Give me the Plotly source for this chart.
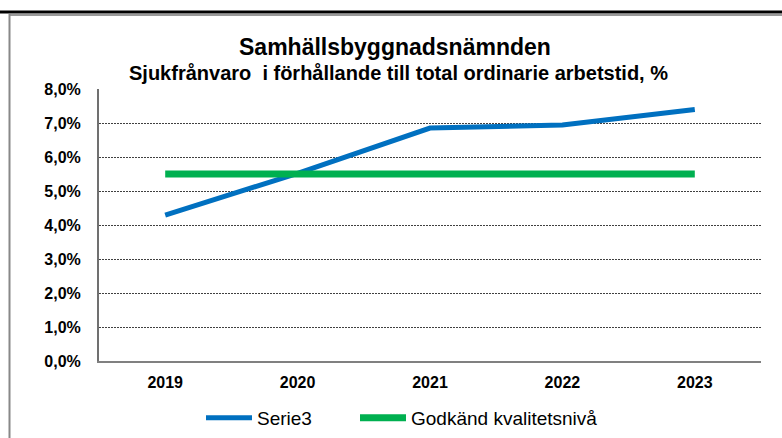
import plotly.graph_objects as go

years = ["2019", "2020", "2021", "2022", "2023"]
serie3 = [0.0429, 0.0552, 0.0685, 0.0694, 0.0740]
godkand = [0.055, 0.055, 0.055, 0.055, 0.055]
y_ticks = [0, 0.01, 0.02, 0.03, 0.04, 0.05, 0.06, 0.07, 0.08]

W, H = 782, 438
L, R, T, B = 99, 21, 89, 77
pw, ph = W - L - R, H - T - B

def px(x):
    return (x - L) / pw

def py(y):
    return (H - B - y) / ph

font = "Liberation Sans, Arial, sans-serif"

fig = go.Figure()
fig.add_trace(go.Scatter(x=years, y=serie3, mode="lines", name="Serie3",
                         line=dict(color="#0070C0", width=5), legend="legend"))
fig.add_trace(go.Scatter(x=years, y=godkand, mode="lines", name="Godkänd kvalitetsnivå",
                         line=dict(color="#00B050", width=7), legend="legend2"))

legend_common = dict(orientation="h", xanchor="left", yanchor="middle",
                     font=dict(size=19, family=font), itemwidth=46,
                     bgcolor="rgba(0,0,0,0)")

fig.update_layout(
    width=W, height=H,
    margin=dict(l=L, r=R, t=T, b=B, autoexpand=False),
    paper_bgcolor="white", plot_bgcolor="white",
    separators=",.",
    font=dict(family=font, color="black"),
    showlegend=True,
    legend=dict(x=px(201), y=py(418), **legend_common),
    legend2=dict(x=px(355), y=py(418), **legend_common),
    xaxis=dict(type="category", range=[-0.5, 4.5], showgrid=False,
               showline=True, linecolor="#808080", linewidth=2, ticks="",
               tickfont=dict(size=16, family=font, color="black", weight="bold"),
               ticklabelstandoff=6),
    yaxis=dict(range=[0, 0.08], tickvals=y_ticks, tickformat=".1%",
               showgrid=True, gridcolor="#404040", griddash="2px,1px", gridwidth=1,
               showline=True, linecolor="#707070", linewidth=2, ticks="",
               tickfont=dict(size=16, family=font, color="black", weight="bold"),
               ticklabelstandoff=13, zeroline=False),
    annotations=[
        dict(text="<b>Samhällsbyggnadsnämnden</b>", x=px(395), y=py(47), xref="paper", yref="paper",
             showarrow=False, font=dict(size=23, family=font), xanchor="center", yanchor="middle"),
        dict(text="<b>Sjukfrånvaro&nbsp; i förhållande till total ordinarie arbetstid, %</b>", x=px(398), y=py(73),
             xref="paper", yref="paper", showarrow=False, font=dict(size=20, family=font),
             xanchor="center", yanchor="middle"),
    ],
    shapes=[
        dict(type="line", xref="paper", yref="paper", x0=px(0), x1=px(782), y0=py(12), y1=py(12),
             line=dict(color="black", width=3)),
        dict(type="line", xref="paper", yref="paper", x0=px(10), x1=px(782), y0=py(15), y1=py(15),
             line=dict(color="#999999", width=2)),
        dict(type="line", xref="paper", yref="paper", x0=px(9.5), x1=px(9.5), y0=py(14), y1=py(440),
             line=dict(color="#888888", width=2)),
    ],
)

fig.write_html("out.html", config={"displayModeBar": False},
               post_script="document.body.style.margin='0';")
